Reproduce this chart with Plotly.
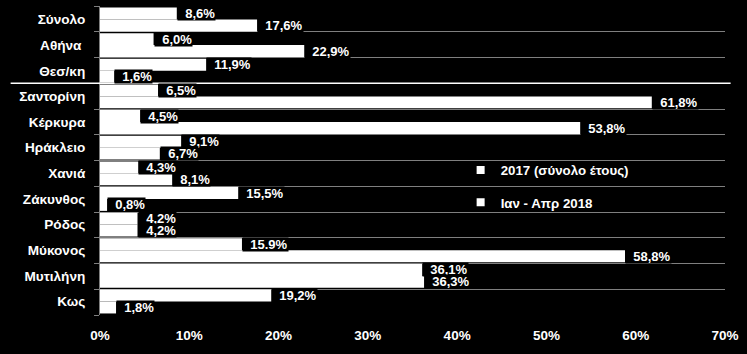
import plotly.graph_objects as go

categories = ["Σύνολο", "Αθήνα\u00a0", "Θεσ/κη", "Σαντορίνη", "Κέρκυρα", "Ηράκλειο",
              "Χανιά", "Ζάκυνθος", "Ρόδος", "Μύκονος", "Μυτιλήνη", "Κως"]
series_names = ["2017 (σύνολο έτους)", "Ιαν - Απρ 2018"]
v2017 = [8.6, 6.0, 11.9, 6.5, 4.5, 9.1, 4.3, 15.5, 4.2, 15.9, 36.1, 19.2]
v2018 = [17.6, 22.9, 1.6, 61.8, 53.8, 6.7, 8.1, 0.8, 4.2, 58.8, 36.3, 1.8]
labels2017 = ["8,6%", "6,0%", "11,9%", "6,5%", "4,5%", "9,1%", "4,3%", "15,5%",
              "4,2%", "15.9%", "36,1%", "19,2%"]
labels2018 = ["17,6%", "22,9%", "1,6%", "61,8%", "53,8%", "6,7%", "8,1%", "0,8%",
              "4,2%", "58,8%", "36,3%", "1,8%"]
x_ticks = [0, 10, 20, 30, 40, 50, 60, 70]
x_ticklabels = ["0%", "10%", "20%", "30%", "40%", "50%", "60%", "70%"]

FONT = "Liberation Sans, Arial, sans-serif"
GRID = "#7f7f7f"
BARGAP = 0.07
n = len(categories)

fig = go.Figure()
for i, (name, vals) in enumerate([(series_names[0], v2017), (series_names[1], v2018)]):
    fig.add_trace(go.Bar(
        y=categories, x=vals, orientation="h", name=name,
        marker=dict(color="white", line=dict(width=0)),
        showlegend=False,
    ))

# legend entries with small square swatches
for i, name in enumerate(series_names):
    fig.add_trace(go.Scatter(
        x=[None], y=[None], yaxis="y2", mode="markers", name=name,
        marker=dict(symbol="square", size=8, color="white"),
        legendgroup=f"g{i}", hoverinfo="skip",
    ))

# data labels with black background boxes
half = (1 - BARGAP) / 4
annotations = []
for labels, vals, off in [(labels2017, v2017, -half), (labels2018, v2018, half)]:
    for j, (lab, v) in enumerate(zip(labels, vals)):
        annotations.append(dict(
            x=v, y=j + off, xref="x", yref="y", text="\u00a0\u00a0" + lab,
            showarrow=False, xanchor="left", yanchor="middle",
            bgcolor="black", borderpad=0, height=13,
            font=dict(family=FONT, size=13, color="white", weight="bold"),
        ))

# white separator line between city totals and islands
sep = categories.index("Θεσ/κη") + 0.5
shapes = [dict(type="line", xref="paper", yref="y2", x0=-0.143, x1=1.009,
               y0=sep, y1=sep, line=dict(color="white", width=1.5))]

fig.update_layout(
    width=747, height=354,
    margin=dict(l=100, r=22, t=6, b=39),
    paper_bgcolor="black", plot_bgcolor="black",
    font=dict(family=FONT, size=13, color="white", weight="bold"),
    barmode="group", bargap=BARGAP, bargroupgap=0,
    xaxis=dict(range=[0, 70], tickvals=x_ticks, ticktext=x_ticklabels,
               showgrid=False, zeroline=False, showline=False, ticks="",
               ticklabelstandoff=10,
               tickfont=dict(family=FONT, size=13.5, color="white", weight="bold")),
    yaxis=dict(type="category", autorange="reversed", showgrid=False,
               showline=True, linecolor=GRID, linewidth=1, ticks="",
               ticklabelstandoff=11,
               tickfont=dict(family=FONT, size=13.6, color="white", weight="bold")),
    yaxis2=dict(overlaying="y", side="left", range=[n - 0.5, -0.5],
                tick0=-0.5, dtick=1, showgrid=True, gridcolor=GRID, gridwidth=1,
                showticklabels=False, ticks="outside", ticklen=5, tickcolor=GRID,
                zeroline=False, showline=False),
    legend=dict(x=0.577, y=0.518, xanchor="left", yanchor="top",
                bgcolor="rgba(0,0,0,0)", tracegroupgap=12, itemwidth=30,
                font=dict(family=FONT, size=13.3, color="white", weight="bold")),
    shapes=shapes,
    annotations=annotations,
    showlegend=True,
)

fig.write_html("out.html")
